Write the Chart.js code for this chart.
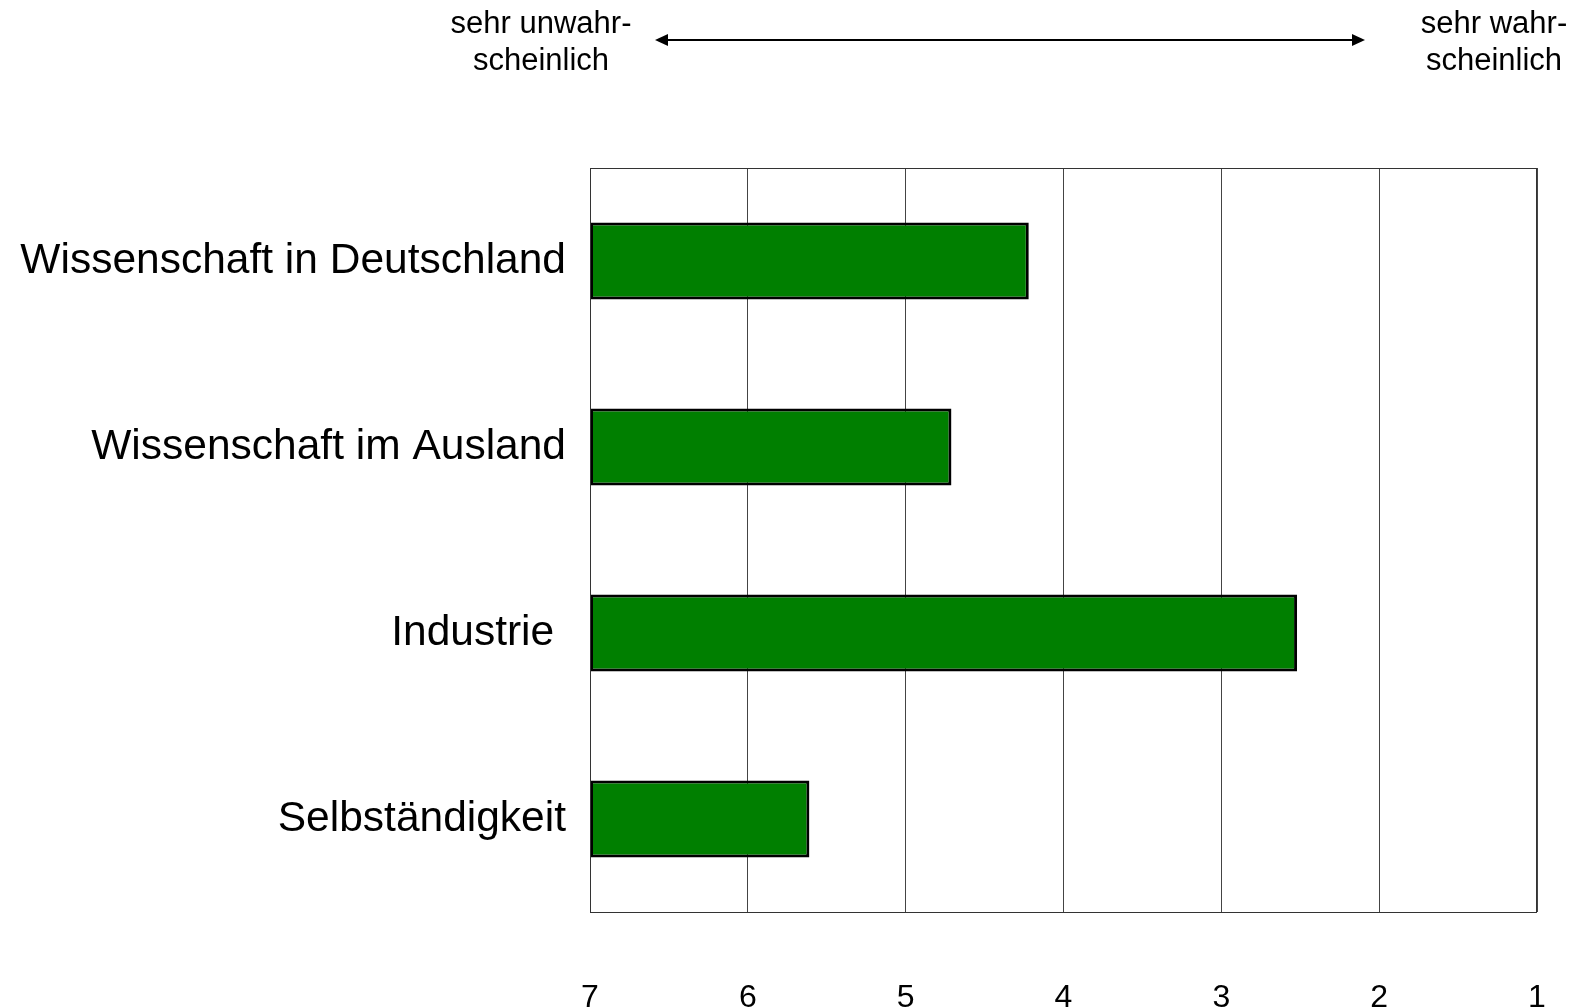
<!DOCTYPE html>
<html>
<head>
<meta charset="utf-8">
<script src="https://cdn.jsdelivr.net/npm/chart.js@4"></script>
<style>
  html, body { margin: 0; padding: 0; background: #fff; }
  #wrap { width: 1580px; height: 1008px; position: relative; }
</style>
</head>
<body>
<div id="wrap"><canvas id="chart"></canvas></div>
<script>
const categories = ["Wissenschaft in Deutschland", "Wissenschaft im Ausland", "Industrie ", "Selbständigkeit"];
const means = [4.22, 4.71, 2.52, 5.61];
const scaleStart = 7;
const scaleEnd = 1;
const leftNote = ["sehr unwahr-", "scheinlich"];
const rightNote = ["sehr wahr-", "scheinlich"];

const FONT = "'Liberation Sans', Arial, sans-serif";

// frame around the plot + the annotation above it
const decor = {
  id: "decor",
  afterDraw(chart) {
    const { ctx, chartArea: a } = chart;
    ctx.save();
    ctx.strokeStyle = "#333";
    ctx.lineWidth = 1;
    ctx.strokeRect(a.left + 0.5, a.top + 0.5, a.right - a.left - 1, a.bottom - a.top);

    ctx.fillStyle = "#000";
    ctx.font = "31px " + FONT;
    ctx.textAlign = "center";
    ctx.textBaseline = "alphabetic";
    leftNote.forEach((t, i) => ctx.fillText(t, 541, 33 + i * 37));
    rightNote.forEach((t, i) => ctx.fillText(t, 1494, 33 + i * 37));

    const y = 40, x0 = 655, x1 = 1365, head = 13;
    ctx.strokeStyle = "#000";
    ctx.lineWidth = 2;
    ctx.beginPath();
    ctx.moveTo(x0 + head, y);
    ctx.lineTo(x1 - head, y);
    ctx.stroke();
    ctx.beginPath();
    ctx.moveTo(x0, y);
    ctx.lineTo(x0 + head, y - 6);
    ctx.lineTo(x0 + head, y + 6);
    ctx.closePath();
    ctx.fill();
    ctx.beginPath();
    ctx.moveTo(x1, y);
    ctx.lineTo(x1 - head, y - 6);
    ctx.lineTo(x1 - head, y + 6);
    ctx.closePath();
    ctx.fill();
    ctx.restore();
  },
};

new Chart(document.getElementById("chart"), {
  type: "bar",
  data: {
    labels: categories,
    datasets: [
      {
        data: means.map((v) => [scaleStart, v]),
        backgroundColor: "#007f00",
        borderColor: "#000",
        borderWidth: 3,
        borderSkipped: false,
        categoryPercentage: 1,
        barPercentage: 0.415,
      },
    ],
  },
  options: {
    indexAxis: "y",
    responsive: true,
    maintainAspectRatio: false,
    animation: false,
    layout: { padding: { top: 168, right: 43, left: 0, bottom: 0 } },
    plugins: { legend: { display: false }, tooltip: { enabled: false } },
    scales: {
      x: {
        reverse: true,
        min: scaleEnd,
        max: scaleStart,
        afterFit: (s) => { s.height = 96; },
        border: { display: false },
        grid: { color: "#444", lineWidth: 1, drawTicks: false },
        ticks: {
          stepSize: 1,
          padding: 10,
          color: "#000",
          // tall line box pushes the numbers well below the frame
          font: { family: FONT, size: 32, lineHeight: "152px" },
        },
      },
      y: {
        afterFit: (s) => { s.width = 590; },
        border: { display: false },
        grid: { display: false, drawTicks: false },
        ticks: {
          padding: 24,
          color: "#000",
          font: { family: FONT, size: 42.5 },
        },
      },
    },
  },
  plugins: [decor],
});
</script>
</body>
</html>
